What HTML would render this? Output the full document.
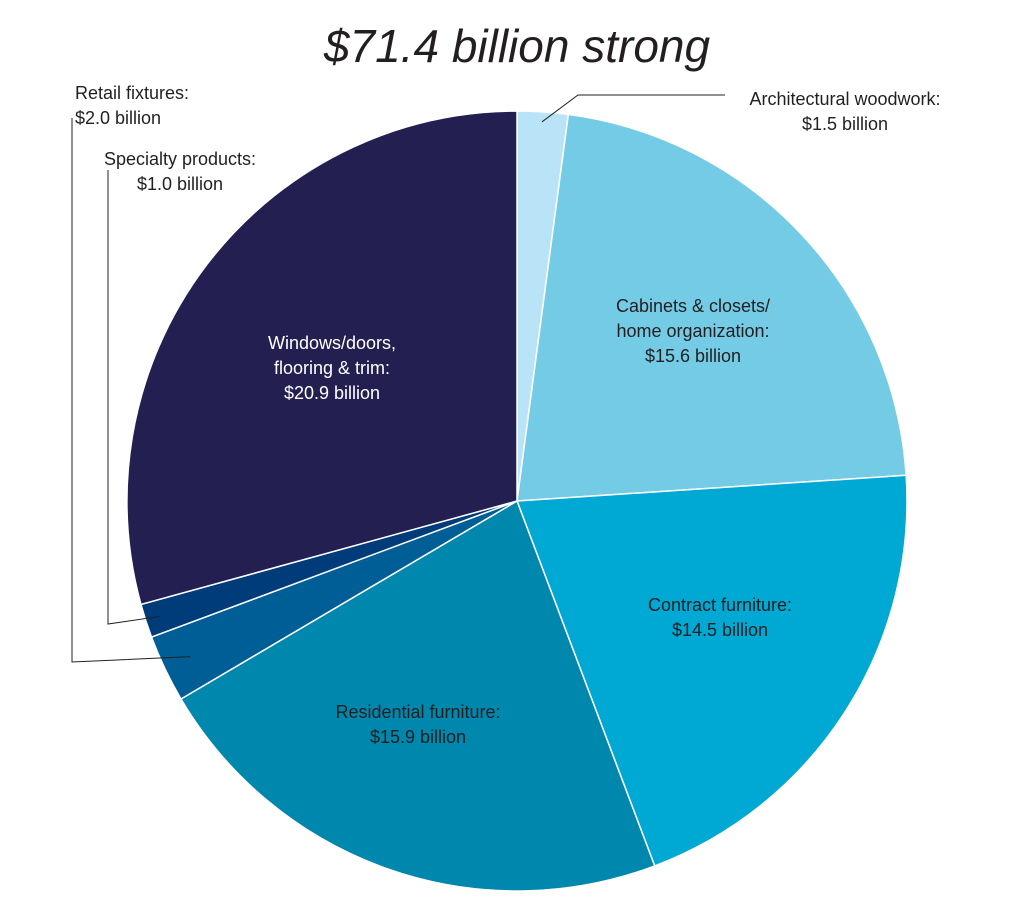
<!DOCTYPE html>
<html><head><meta charset="utf-8"><style>
body{margin:0;background:#fff;}
svg{display:block;font-family:"Liberation Sans",sans-serif;}
</style></head><body>
<svg id="chart" width="1018" height="913">
<text x="517" y="62" text-anchor="middle" font-size="46" font-style="italic" fill="#231f20">$71.4 billion strong</text>
<g id="slices"></g>
<g id="labels" font-size="18" fill="#231f20"></g>
</svg>
<script>
const categories=["Architectural woodwork","Cabinets & closets/ home organization","Contract furniture","Residential furniture","Retail fixtures","Specialty products","Windows/doors, flooring & trim"];
const values=[1.5,15.6,14.5,15.9,2.0,1.0,20.9];
const valueLabels=["$1.5 billion","$15.6 billion","$14.5 billion","$15.9 billion","$2.0 billion","$1.0 billion","$20.9 billion"];
const colors=["#b9e3f6","#74cbe6","#00a9d4","#0087ad","#005e96","#003b7a","#231f51"];
const cx=517,cy=501,r=390;
const ns="http://www.w3.org/2000/svg";
const total=values.reduce((a,b)=>a+b,0);
function pt(f,rr){const a=f*2*Math.PI;return [cx+rr*Math.sin(a),cy-rr*Math.cos(a)];}
const sg=document.getElementById('slices');
let cum=0;const mids=[];
values.forEach((v,i)=>{
 const f0=cum/total;cum+=v;const f1=cum/total;mids.push((f0+f1)/2);
 const [x0,y0]=pt(f0,r),[x1,y1]=pt(f1,r);
 const p=document.createElementNS(ns,'path');
 p.setAttribute('d',`M${cx},${cy}L${x0},${y0}A${r},${r} 0 ${f1-f0>0.5?1:0} 1 ${x1},${y1}Z`);
 p.setAttribute('fill',colors[i]);p.setAttribute('stroke','#fff');p.setAttribute('stroke-width','1.5');
 
 
 sg.appendChild(p);
});
const lg=document.getElementById('labels');
function text(lines,x,y,anchor,fill,name){
 const t=document.createElementNS(ns,'text');
 t.setAttribute('x',x);t.setAttribute('y',y);t.setAttribute('text-anchor',anchor);t.setAttribute('fill',fill);
 
 
 lines.forEach((l,k)=>{const s=document.createElementNS(ns,'tspan');s.setAttribute('x',x);s.setAttribute('dy',k?25:0);s.textContent=l;t.appendChild(s);});
 lg.appendChild(t);
}
function line(pts,name){
 const p=document.createElementNS(ns,'polyline');
 p.setAttribute('points',pts.map(q=>q.join(',')).join(' '));
 p.setAttribute('fill','none');p.setAttribute('stroke','#231f20');p.setAttribute('stroke-width','1');
 
 
 lg.appendChild(p);
}
text(["Architectural woodwork:",valueLabels[0]],845,105,'middle','#231f20','label-architectural');
text(["Cabinets & closets/","home organization:",valueLabels[1]],693,312,'middle','#231f20','label-cabinets');
text(["Contract furniture:",valueLabels[2]],720,611,'middle','#231f20','label-contract');
text(["Residential furniture:",valueLabels[3]],418,718,'middle','#231f20','label-residential');
text(["Retail fixtures:",valueLabels[4]],75,99,'start','#231f20','label-retail');
text(["Specialty products:",valueLabels[5]],180,165,'middle','#231f20','label-specialty');
text(["Windows/doors,","flooring & trim:",valueLabels[6]],332,349,'middle','#fff','label-windows');
const a0=pt(mids[0],r-10);line([a0,[578,95],[725,95]],'leader-architectural');
const a4=pt(mids[4],r-28);line([a4,[72,662],[72,118]],'leader-retail');
const a5=pt(mids[5],r-14);line([a5,[108,624],[108,170]],'leader-specialty');
</script>
</body></html>
